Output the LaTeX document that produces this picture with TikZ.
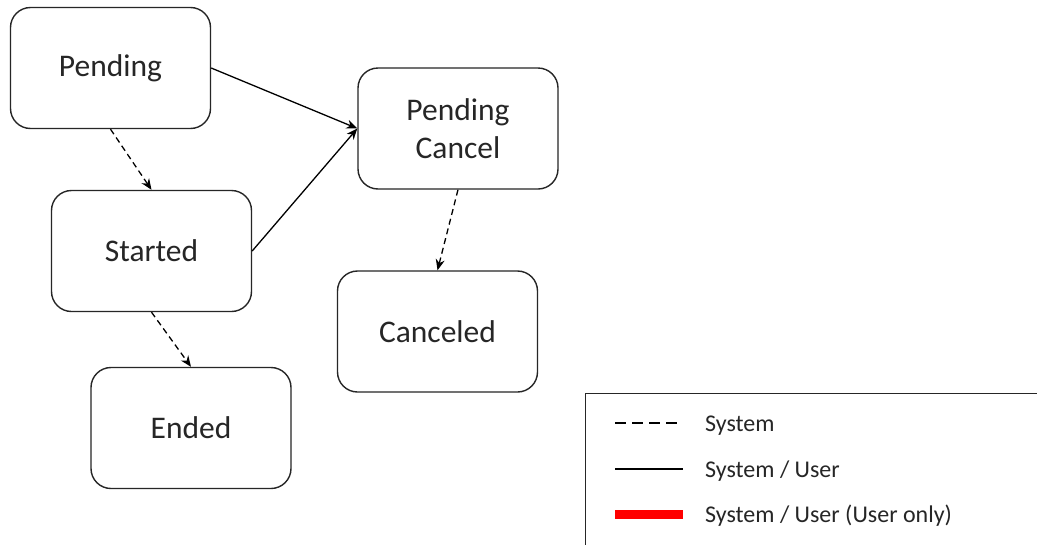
\documentclass[tikz,border=0pt]{standalone}
\usepackage{fontspec}
\setmainfont{Carlito}
\usetikzlibrary{arrows.meta}
\definecolor{txt}{HTML}{262626}
\tikzset{
  state/.style={draw=black!85, line width=1.4pt, rounded corners=20pt, minimum width=200pt, minimum height=121pt, inner sep=0pt, align=center, text=txt, font=\fontsize{31.5}{38}\selectfont},
  sysarrow/.style={draw=black, line width=1.3pt, dash pattern=on 6pt off 4pt, -{Stealth[length=11pt,width=9pt]}},
  userarrow/.style={draw=black, line width=1.3pt, -{Stealth[length=11pt,width=9pt]}},
  legtext/.style={anchor=west, text=txt, inner sep=0pt, font=\fontsize{24}{28}\selectfont}
}
\begin{document}
\begin{tikzpicture}[x=1pt,y=-1pt]
\useasboundingbox (0,0) rectangle (1037,544);
\clip (0,0) rectangle (1037,544);
\fill[white] (0,0) rectangle (1037,544);
\node[state] (pending) at (110.5,68) {Pending};
\node[state] (pcancel) at (458,128.5) {Pending\\Cancel};
\node[state] (started) at (151.5,251) {Started};
\node[state] (canceled) at (437.5,331.5) {Canceled};
\node[state] (ended) at (191,428) {Ended};
\draw[userarrow] (pending.east) -- (pcancel.west);
\draw[userarrow] (started.east) -- (pcancel.west);
\draw[sysarrow] (pending.south) -- (started.north);
\draw[sysarrow] (pcancel.south) -- (canceled.north);
\draw[sysarrow] (started.south) -- (ended.north);
% legend
\node[draw=black!85, line width=1.4pt, minimum width=470pt, minimum height=170pt, anchor=north west, inner sep=0pt] (legend) at (584.5,393) {};
\coordinate (l1a) at (615,423); \coordinate (l1b) at (683,423);
\coordinate (l2a) at (615,469); \coordinate (l2b) at (683,469);
\coordinate (l3a) at (615,514); \coordinate (l3b) at (683,514);
\draw[line width=1.2pt, dash pattern=on 11pt off 6pt] (l1a) -- (l1b);
\draw[line width=1.2pt] (l2a) -- (l2b);
\draw[line width=9pt, red] (l3a) -- (l3b);
\node[legtext] (t1) at (705,426) {System};
\node[legtext] (t2) at (705,471) {System / User};
\node[legtext] (t3) at (705,516) {System / User (User only)};
\end{tikzpicture}
\end{document}
